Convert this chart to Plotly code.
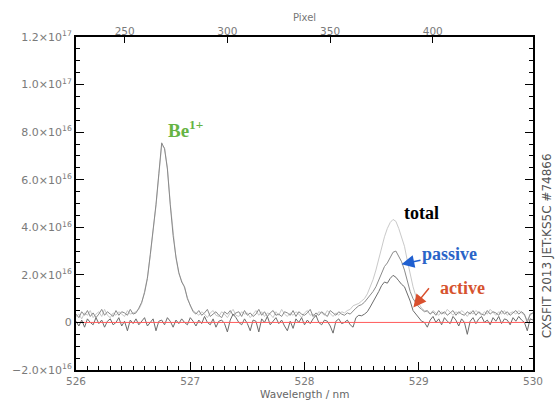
import plotly.graph_objects as go

# ---- data (intensity in units of 1e16) ----
WL_START = 526.0
WL_STEP = 0.025
SCALE = 1e16

total = [
    0.25, 0.35, 0.15, 0.40, 0.30, 0.50, 0.20, 0.35, 0.45, 0.25,
    0.55, 0.30, 0.20, 0.40, 0.30, 0.45, 0.35, 0.25, 0.50, 0.35,
    0.40, 0.45, 0.55, 0.80, 1.30, 1.90, 2.80, 3.80, 4.90, 6.20,
    7.45, 7.35, 6.50, 5.00, 3.70, 2.70, 2.05, 1.75, 1.45, 1.05,
    0.70, 0.50, 0.40, 0.30, 0.45, 0.35, 0.20, 0.40, 0.50, 0.30,
    0.25, 0.45, 0.35, 0.20, 0.40, 0.55, 0.30, 0.25, 0.45, 0.35,
    0.40, 0.20, 0.35, 0.50, 0.30, 0.45, 0.25, 0.40, 0.35, 0.20,
    0.45, 0.30, 0.55, 0.35, 0.25, 0.40, 0.30, 0.45, 0.35, 0.20,
    0.40, 0.50, 0.30, 0.35, 0.25, 0.45, 0.40, 0.30, 0.50, 0.35,
    0.25, 0.40, 0.30, 0.45, 0.40, 0.50, 0.55, 0.70, 0.75, 0.80,
    0.90, 1.00, 1.20, 1.50, 1.80, 2.20, 2.70, 3.20, 3.60, 3.95,
    4.20, 4.33, 4.25, 3.95, 3.60, 3.20, 2.60, 2.00, 1.50, 1.10,
    0.80, 0.60, 0.50, 0.45, 0.35, 0.50, 0.40, 0.30, 0.45, 0.35,
    0.55, 0.40, 0.30, 0.45, 0.35, 0.50, 0.40, 0.25, 0.45, 0.35,
    0.50, 0.40, 0.30, 0.45, 0.35, 0.55, 0.40, 0.30, 0.45, 0.35,
    0.50, 0.30, 0.40, 0.45, 0.35, 0.50, 0.40, 0.30, 0.10, 0.30,
    0.40,
]

passive = [
    0.35, 0.20, 0.45, 0.30, 0.50, 0.25, 0.40, 0.20, 0.35, 0.55,
    0.30, 0.45, 0.35, 0.25, 0.50, 0.30, 0.45, 0.40, 0.30, 0.55,
    0.35, 0.40, 0.60, 0.85, 1.25, 1.85, 2.85, 3.85, 4.95, 6.25,
    7.55, 7.30, 6.45, 4.95, 3.65, 2.75, 2.10, 1.70, 1.50, 1.00,
    0.75, 0.45, 0.35, 0.50, 0.30, 0.40, 0.55, 0.25, 0.35, 0.45,
    0.30, 0.20, 0.45, 0.35, 0.50, 0.30, 0.40, 0.45, 0.25, 0.50,
    0.30, 0.40, 0.25, 0.35, 0.55, 0.30, 0.45, 0.25, 0.40, 0.50,
    0.30, 0.35, 0.25, 0.45, 0.40, 0.30, 0.50, 0.25, 0.45, 0.35,
    0.30, 0.40, 0.55, 0.25, 0.40, 0.30, 0.45, 0.35, 0.25, 0.50,
    0.40, 0.30, 0.45, 0.35, 0.30, 0.40, 0.35, 0.50, 0.60, 0.70,
    0.75, 0.85, 1.00, 1.10, 1.30, 1.50, 1.80, 2.10, 2.35, 2.50,
    2.75, 2.95, 3.00, 2.80, 2.55, 2.20, 1.70, 1.30, 1.00, 0.80,
    0.65, 0.55, 0.45, 0.50, 0.35, 0.45, 0.30, 0.50, 0.35, 0.45,
    0.30, 0.40, 0.50, 0.30, 0.45, 0.35, 0.30, 0.45, 0.35, 0.50,
    0.30, 0.45, 0.35, 0.30, 0.50, 0.35, 0.45, 0.40, 0.30, 0.50,
    0.35, 0.45, 0.30, 0.40, 0.50, 0.35, 0.45, 0.35, 0.00, 0.35,
    0.40,
]

active = [
    0.05, -0.15, 0.10, -0.20, 0.15, 0.00, -0.10, 0.20, -0.05, 0.10,
    -0.20, 0.05, 0.15, -0.10, 0.00, 0.20, -0.15, 0.05, -0.35, 0.10,
    -0.05, 0.15, -0.10, 0.05, 0.20, -0.15, 0.00, 0.15, -0.35, 0.05,
    0.10, -0.10, 0.20, 0.05, -0.20, 0.10, -0.05, 0.15, 0.00, -0.10,
    0.20, 0.05, -0.15, 0.10, -0.05, 0.25, 0.00, -0.10, 0.15, -0.20,
    0.05, 0.10, -0.05, -0.40, 0.10, 0.35, 0.20, 0.00, -0.10, 0.15,
    -0.05, -0.35, 0.10, 0.05, -0.40, 0.15, 0.00, 0.25, -0.10, 0.05,
    0.20, -0.05, 0.10, -0.15, -0.35, 0.05, -0.25, 0.15, 0.00, 0.20,
    -0.10, 0.10, -0.05, 0.15, 0.30, 0.00, -0.10, 0.10, 0.05, -0.15,
    -0.45, 0.05, 0.15, -0.05, 0.00, 0.10, -0.10, -0.20, 0.20, 0.30,
    0.28, 0.35, 0.45, 0.65, 0.85, 1.05, 1.30, 1.55, 1.70, 1.65,
    1.85, 1.98, 1.90, 1.75, 1.60, 1.50, 1.20, 0.90, 0.50, 0.35,
    0.20, 0.05, 0.00, -0.20, 0.10, 0.25, 0.00, 0.15, -0.10, 0.20,
    0.05, -0.05, 0.25, 0.10, -0.15, 0.15, 0.00, -0.50, 0.05, 0.20,
    -0.05, 0.15, 0.25, 0.00, 0.10, -0.10, 0.20, 0.05, 0.25, -0.05,
    0.15, 0.10, -0.10, 0.20, 0.05, 0.25, 0.10, 0.00, -0.35, 0.15,
    0.10,
]

wavelength = [round(WL_START + WL_STEP * i, 3) for i in range(len(total))]

x_ticks = [526, 527, 528, 529, 530]
y_ticks = [-2e16, 0, 2e16, 4e16, 6e16, 8e16, 1.0e17, 1.2e17]
y_ticktext = ["\u22122.0\u00d710<sup>16</sup>", "0", "2.0\u00d710<sup>16</sup>",
              "4.0\u00d710<sup>16</sup>", "6.0\u00d710<sup>16</sup>",
              "8.0\u00d710<sup>16</sup>", "1.0\u00d710<sup>17</sup>",
              "1.2\u00d710<sup>17</sup>"]
pixel_ticks = [250, 300, 350, 400]
pixel_range = [226.3, 448.8]

fig = go.Figure()
for vals, col in [(total, "#c9c9c9"), (passive, "#8a8a8a"), (active, "#6c6c6c")]:
    fig.add_trace(go.Scatter(x=wavelength, y=[v * SCALE for v in vals], mode="lines",
                             line=dict(color=col, width=1), hoverinfo="skip",
                             showlegend=False))
fig.add_trace(go.Scatter(x=[526, 530], y=[0, 0], mode="lines",
                         line=dict(color="#ff5a5a", width=1), showlegend=False,
                         hoverinfo="skip"))
# dummy trace to carry the top (pixel) axis
fig.add_trace(go.Scatter(x=pixel_range, y=[None, None], xaxis="x2", mode="lines",
                         showlegend=False, hoverinfo="skip"))

tickfont = dict(family="DejaVu Sans", size=10.5, color="#7a7a7a")
fig.update_layout(
    width=555, height=405,
    margin=dict(l=73, r=13, t=37, b=35),
    paper_bgcolor="white", plot_bgcolor="white",
    xaxis=dict(range=[526, 530], tickvals=x_ticks, ticks="inside", ticklen=8,
               tickwidth=1, tickcolor="black", showline=True, linecolor="black",
               linewidth=2, showgrid=False, zeroline=False, tickfont=tickfont,
               minor=dict(dtick=0.1, ticks="inside", ticklen=4, tickcolor="black",
                          showgrid=False)),
    xaxis2=dict(range=pixel_range, overlaying="x", side="top", tickvals=pixel_ticks,
                ticks="inside", ticklen=6, tickcolor="black", showline=True,
                linecolor="black", linewidth=2, showgrid=False, zeroline=False,
                tickfont=tickfont, ticklabelstandoff=-4),
    yaxis=dict(range=[-2e16, 1.2e17], tickvals=y_ticks, ticktext=y_ticktext,
               ticks="inside", ticklen=8, tickcolor="black", showline=True,
               linecolor="black", linewidth=2, mirror="ticks", showgrid=False,
               zeroline=False, tickfont=dict(family="DejaVu Sans", size=11, color="#7a7a7a"),
               minor=dict(dtick=5e15, ticks="inside", ticklen=4, tickcolor="black",
                          showgrid=False)),
)

serif = "Liberation Serif"
C = dict(xanchor="center", yanchor="middle")
ann = [
    dict(x=0.5, y=-0.072, xref="paper", yref="paper", text="Wavelength / nm",
         showarrow=False, font=dict(family="DejaVu Sans", size=10.5, color="#666666"), **C),
    dict(x=0.5, y=1.06, xref="paper", yref="paper", text="Pixel",
         showarrow=False, font=dict(family="DejaVu Sans", size=10, color="#777777"), **C),
    dict(x=1.031, y=0.372, xref="paper", yref="paper",
         text="CXSFIT 2013 JET:KS5C #74866", textangle=-90, showarrow=False,
         font=dict(family="DejaVu Sans", size=12, color="#555555"), **C),
    dict(x=526.96, y=8.15e16, text="<b>Be<sup>1+</sup></b>", showarrow=False,
         font=dict(family=serif, size=19, color="#66b444"), **C),
    dict(x=529.02, y=4.62e16, text="<b>total</b>", showarrow=False,
         font=dict(family=serif, size=18, color="black"), **C),
    # passive label with its arrow: (x, y) is the arrow tip, ax/ay the text offset in px
    dict(x=528.849, y=2.45e16, text="<b>passive</b>", showarrow=True, ax=48, ay=-10,
         arrowhead=2, arrowsize=1.7, arrowwidth=1.5, arrowcolor="#1f5fd0",
         standoff=0, font=dict(family=serif, size=18, color="#2a64c8"), **C),
    dict(x=529.38, y=1.43e16, text="<b>active</b>", showarrow=False,
         font=dict(family=serif, size=18, color="#d6532f"), **C),
    # active arrow: tail (ax, ay) and tip (x, y) in data coordinates
    dict(x=528.953, y=0.63e16, ax=529.10, ay=1.50e16, axref="x", ayref="y",
         text="", showarrow=True, arrowhead=2, arrowsize=1.7, arrowwidth=1.5,
         arrowcolor="#d9502e", standoff=0, startstandoff=0),
]
fig.update_layout(annotations=ann)

fig.write_html("out.html", config={"displayModeBar": False},
               post_script="document.body.style.margin='0';document.body.style.padding='0';")
